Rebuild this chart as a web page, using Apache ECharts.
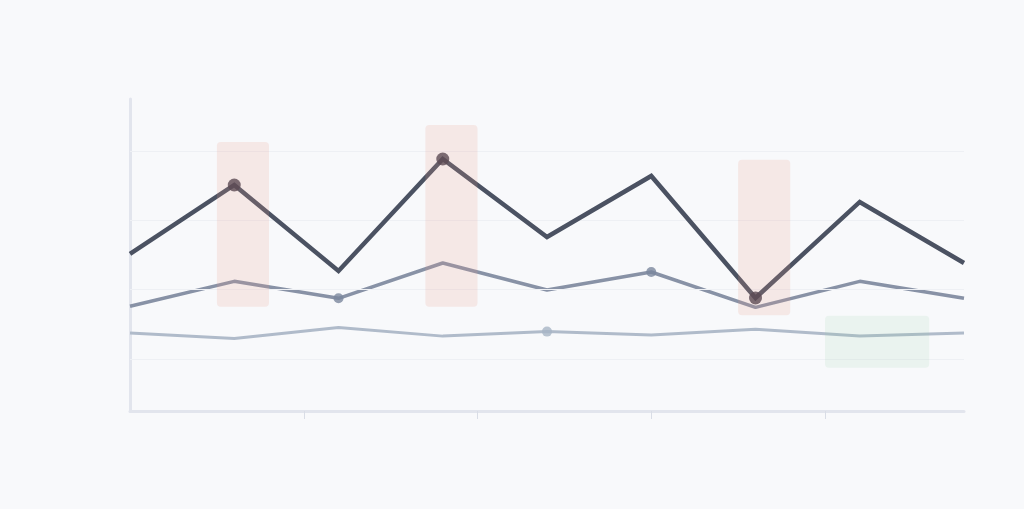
<!DOCTYPE html>
<html>
<head>
<meta charset="utf-8">
<script src="https://cdn.jsdelivr.net/npm/echarts@6/dist/echarts.min.js"></script>
<style>
html,body{margin:0;padding:0;background:#f8f9fb;}
#c{width:1024px;height:509px;}
</style>
</head>
<body>
<div id="c"></div>
<script>
// x positions (hours)
var xValues = [0, 6, 12, 18, 24, 30, 36, 42, 48];
var xTickValues = [10, 20, 30, 40];
var darkSeries = [45.3, 65.2, 40.4, 72.7, 50.2, 67.8, 32.6, 60.3, 42.7];
var midSeries = [30.2, 37.4, 32.5, 42.7, 34.9, 40.1, 29.9, 37.4, 32.5];
var lightSeries = [22.5, 20.9, 24.1, 21.6, 22.9, 21.9, 23.6, 21.6, 22.5];
// indices of highlighted points
var darkMarked = [1, 3, 6];
var midMarked = [2, 5];
var lightMarked = [4];
// shaded regions: [x0, x1, y0, y1]
var pinkBands = [[5, 8, 30.1, 77.6], [17, 20, 30.1, 82.5], [35, 38, 27.6, 72.5]];
var greenBands = [[40, 46, 12.5, 27.5]];
// horizontal guide values
var guideLines = [15, 35, 55, 75];

function pairs(arr) { return xValues.map(function (x, i) { return [x, arr[i]]; }); }
function picks(arr, idx) { return idx.map(function (i) { return [xValues[i], arr[i]]; }); }

function bandSeries(bands, color) {
  return {
    type: 'custom',
    z: 10,
    silent: true,
    data: bands,
    renderItem: function (params, api) {
      var p0 = api.coord([api.value(0), api.value(3)]);
      var p1 = api.coord([api.value(1), api.value(2)]);
      return {
        type: 'rect',
        shape: { x: p0[0], y: p0[1], width: p1[0] - p0[0], height: p1[1] - p0[1], r: 4 },
        style: { fill: color }
      };
    }
  };
}

var chart = echarts.init(document.getElementById('c'));
chart.setOption({
  backgroundColor: '#f8f9fb',
  animation: false,
  grid: { left: 130, right: 60, top: 99, bottom: 98 },
  xAxis: {
    type: 'value', min: 0, max: 48, interval: 10,
    axisLine: { show: true, lineStyle: { color: '#e2e5ed', width: 3 } },
    axisTick: { show: true, length: 8, customValues: xTickValues, lineStyle: { color: '#d9dde6', width: 1 } },
    axisLabel: { show: false },
    splitLine: { show: false }
  },
  yAxis: {
    type: 'value', min: 0, max: 90,
    axisLine: { show: true, lineStyle: { color: '#e2e5ed', width: 3 } },
    axisTick: { show: false },
    axisLabel: { show: false },
    splitLine: { show: false }
  },
  series: [
    {
      type: 'line', data: [], silent: true,
      markLine: {
        silent: true, symbol: 'none', label: { show: false },
        lineStyle: { color: '#eef0f4', width: 1, type: 'solid' },
        data: guideLines.map(function (v) { return { yAxis: v }; })
      }
    },
    {
      type: 'line', data: pairs(lightSeries), symbol: 'none', z: 3,
      lineStyle: { color: '#b0bbca', width: 3 }
    },
    {
      type: 'line', data: pairs(midSeries), symbol: 'none', z: 4,
      lineStyle: { color: '#8892a6', width: 3.5 }
    },
    {
      type: 'line', data: pairs(darkSeries), symbol: 'none', z: 5,
      lineStyle: { color: '#4b5262', width: 4.5, join: 'miter' }
    },
    {
      type: 'scatter', data: picks(lightSeries, lightMarked), symbolSize: 10, z: 6,
      itemStyle: { color: '#a8b5c5' }
    },
    {
      type: 'scatter', data: picks(midSeries, midMarked), symbolSize: 10, z: 6,
      itemStyle: { color: '#7a879d' }
    },
    {
      type: 'scatter', data: picks(darkSeries, darkMarked), symbolSize: 13, z: 6,
      itemStyle: { color: '#3d3a48' }
    },
    bandSeries(pinkBands, 'rgba(235,155,140,0.18)'),
    bandSeries(greenBands, 'rgba(140,205,160,0.12)')
  ]
});
</script>
</body>
</html>
